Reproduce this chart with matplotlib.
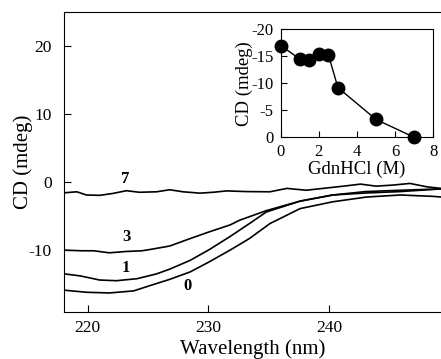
import matplotlib
matplotlib.use("Agg")
import matplotlib.pyplot as plt

plt.rcParams['font.family'] = ['Liberation Serif', 'DejaVu Serif']
plt.rcParams['axes.unicode_minus'] = False

# Main CD spectra (wavelength nm, CD mdeg)
wl7 = [218.1, 219.1, 219.9, 221.0, 222.1, 223.2, 224.3, 225.7, 226.8, 227.9, 229.3, 230.4,
       231.5, 233.2, 235.1, 236.5, 238.1, 239.5, 241.2, 242.6, 243.9, 245.3, 246.7, 248.1, 249.3]
cd7 = [-1.57, -1.43, -1.9, -1.95, -1.67, -1.27, -1.5, -1.43, -1.13, -1.43, -1.63, -1.5,
       -1.3, -1.4, -1.43, -0.93, -1.2, -0.93, -0.6, -0.3, -0.6, -0.44, -0.2, -0.7, -0.93]

wl3 = [218.0, 219.5, 220.5, 221.8, 223.2, 224.5, 225.2, 226.8, 228.5, 230.1, 231.8, 232.6,
       234.8, 237.6, 240.3, 243.1, 245.9, 249.3]
cd3 = [-10.0, -10.1, -10.1, -10.4, -10.2, -10.1, -9.9, -9.4, -8.3, -7.3, -6.3, -5.6,
       -4.2, -2.8, -1.9, -1.6, -1.4, -1.0]

wl1 = [218.1, 219.4, 221.0, 222.4, 224.1, 225.7, 226.8, 228.5, 230.1, 231.8, 233.4, 234.8,
       237.6, 240.3, 243.0, 246.0, 249.3]
cd1 = [-13.5, -13.8, -14.4, -14.5, -14.2, -13.5, -12.8, -11.5, -9.9, -8.0, -6.1, -4.4,
       -2.8, -1.9, -1.4, -1.2, -1.0]

wl0 = [218.1, 219.9, 221.8, 223.8, 225.2, 226.8, 228.5, 230.1, 231.8, 233.4, 235.1, 237.6,
       240.3, 243.1, 245.9, 248.6, 249.3]
cd0 = [-15.9, -16.2, -16.3, -16.0, -15.2, -14.3, -13.2, -11.7, -10.0, -8.3, -6.1, -3.9,
       -2.9, -2.2, -1.9, -2.1, -2.2]

curve_labels = ['7', '3', '1', '0']
label_x = [223.1, 223.2, 223.2, 228.3]
label_y = [0.4, -8.1, -12.7, -15.3]

# Inset: CD vs GdnHCl
gdn = [0, 1, 1.5, 2, 2.5, 3, 5, 7]
cd_gdn = [-17.0, -14.5, -14.3, -15.5, -15.3, -9.2, -3.3, 0.0]

fig = plt.figure(figsize=(4.41, 3.59), dpi=100)
ax = fig.add_axes([64/441, 47/359, 377/441, 300/359])
for w, c in [(wl7, cd7), (wl3, cd3), (wl1, cd1), (wl0, cd0)]:
    ax.plot(w, c, color='black', lw=1.2)
for t, x, y in zip(curve_labels, label_x, label_y):
    ax.text(x, y, t, fontsize=12, fontweight='bold', ha='center', va='center')

ax.set_xlim(218.04, 249.27)
ax.set_ylim(-19.1, 25)
ax.set_xticks([220, 230, 240])
ax.set_yticks([-10, 0, 10, 20])
ax.tick_params(direction='in', length=5, width=0.8, labelsize=12.5)
ax.tick_params(axis='y', pad=9)
ax.tick_params(axis='x', pad=6)
ax.spines['right'].set_visible(False)
for s in ['left', 'bottom', 'top']:
    ax.spines[s].set_linewidth(0.8)
ax.set_xlabel('Wavelength (nm)', fontsize=15, labelpad=2)
ax.set_ylabel('CD (mdeg)', fontsize=15, labelpad=-3)

axi = fig.add_axes([280.7/441, (359-137.3)/359, 152.6/441, 108/359])
axi.plot(gdn, cd_gdn, color='black', lw=1.0, marker='o', markersize=9,
         markerfacecolor='black', markeredgecolor='black', clip_on=False)
axi.set_xlim(0, 8)
axi.set_ylim(0, -20)
axi.set_xticks([0, 2, 4, 6, 8])
axi.set_yticks([0, -5, -10, -15, -20])
axi.tick_params(direction='in', length=4, width=0.8, labelsize=12, pad=5)
for s in axi.spines.values():
    s.set_linewidth(0.8)
axi.set_xlabel('GdnHCl (M)', fontsize=13.5, labelpad=0)
axi.set_ylabel('CD (mdeg)', fontsize=13.5, labelpad=-1)

fig.savefig('out.png', dpi=100)
